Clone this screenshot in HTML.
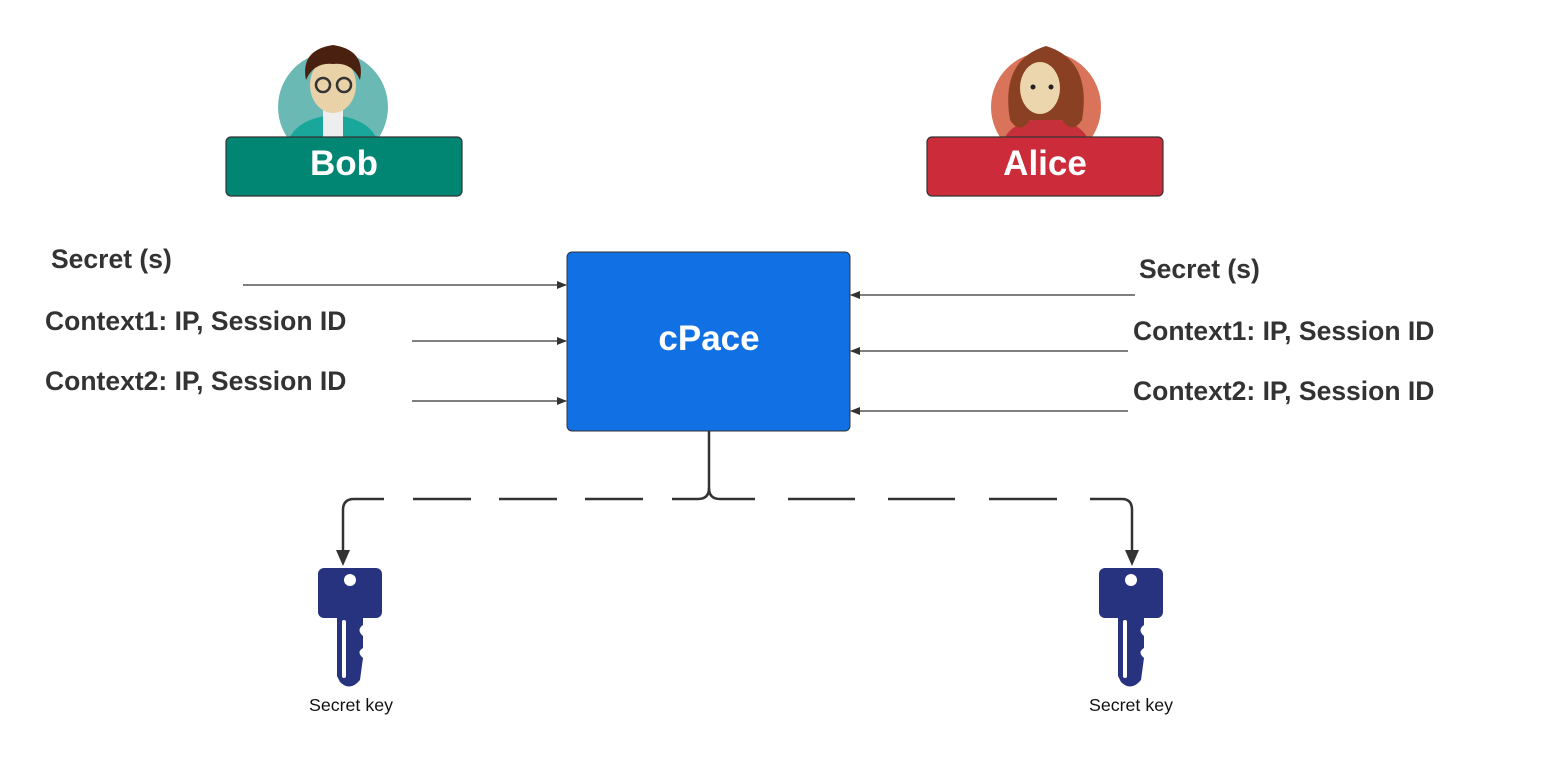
<!DOCTYPE html>
<html><head><style>
body{margin:0;background:#fff;width:1541px;height:759px;overflow:hidden;font-family:"Liberation Sans",sans-serif}
</style></head><body>
<svg width="1541" height="759" xmlns="http://www.w3.org/2000/svg" font-family="Liberation Sans, sans-serif">
<defs>
<marker id="a" markerWidth="10" markerHeight="8" refX="9" refY="4" orient="auto" markerUnits="userSpaceOnUse"><path d="M0,0 L10,4 L0,8z" fill="#333"/></marker>
<clipPath id="cb"><rect x="0" y="0" width="1541" height="137"/></clipPath>
</defs>
<g clip-path="url(#cb)">
<circle cx="333" cy="107" r="55" fill="#6bb9b4"/>
<path d="M290,137 Q300,118 333,115 Q366,118 376,137z" fill="#1aa79b"/>
<rect x="323" y="110" width="20" height="27" fill="#eee"/>
<ellipse cx="333" cy="85" rx="23" ry="28" fill="#e9d2a8"/>
<path d="M306,80 Q300,50 333,45 Q366,50 360,80 Q352,62 333,64 Q314,62 306,80z" fill="#4a2110"/>
<circle cx="323" cy="85" r="7" fill="none" stroke="#333" stroke-width="2.5"/>
<circle cx="344" cy="85" r="7" fill="none" stroke="#333" stroke-width="2.5"/>
</g>
<g clip-path="url(#cb)">
<circle cx="1046" cy="107" r="55" fill="#d9735a"/>
<path d="M1005,137 Q1015,120 1046,118 Q1077,120 1087,137z" fill="#c6303a"/>
<path d="M1010,120 Q1000,60 1046,46 Q1092,60 1082,120 Q1072,135 1062,120 L1030,120 Q1020,135 1010,120z" fill="#8a4022"/>
<ellipse cx="1040" cy="88" rx="20" ry="26" fill="#ecd6ad"/>
<circle cx="1033" cy="87" r="2.5" fill="#222"/><circle cx="1051" cy="87" r="2.5" fill="#222"/>
</g>
<rect x="226" y="137" width="236" height="59" rx="5" fill="#008673" stroke="#333" stroke-width="1.2"/>
<text x="344" y="175" font-size="35" font-weight="bold" fill="#fff" text-anchor="middle">Bob</text>
<rect x="927" y="137" width="236" height="59" rx="5" fill="#cc2c3a" stroke="#333" stroke-width="1.2"/>
<text x="1045" y="175" font-size="35" font-weight="bold" fill="#fff" text-anchor="middle">Alice</text>
<rect x="567" y="252" width="283" height="179" rx="5" fill="#1170e3" stroke="#333" stroke-width="1"/>
<text x="709" y="350" font-size="35" font-weight="bold" fill="#fff" text-anchor="middle">cPace</text>
<g font-size="26.5" font-weight="bold" fill="#333">
<text x="51" y="268">Secret (s)</text>
<text x="45" y="330">Context1: IP, Session ID</text>
<text x="45" y="390">Context2: IP, Session ID</text>
<text x="1139" y="278">Secret (s)</text>
<text x="1133" y="340">Context1: IP, Session ID</text>
<text x="1133" y="400">Context2: IP, Session ID</text>
</g>
<g stroke="#333" stroke-width="1.2" fill="none">
<line x1="243" y1="285" x2="566" y2="285" marker-end="url(#a)"/>
<line x1="412" y1="341" x2="566" y2="341" marker-end="url(#a)"/>
<line x1="412" y1="401" x2="566" y2="401" marker-end="url(#a)"/>
<line x1="1135" y1="295" x2="851" y2="295" marker-end="url(#a)"/>
<line x1="1128" y1="351" x2="851" y2="351" marker-end="url(#a)"/>
<line x1="1128" y1="411" x2="851" y2="411" marker-end="url(#a)"/>
</g>
<g stroke="#333" stroke-width="2.5" fill="none">
<path d="M709,431 L709,488 Q709,499 698,499 L354,499 Q343,499 343,510 L343,562"/>
<path d="M709,488 Q709,499 720,499 L1122,499 Q1132,499 1132,510 L1132,562"/>
</g>
<g fill="#fff">
<rect x="384" y="495" width="29" height="8"/>
<rect x="471" y="495" width="28" height="8"/>
<rect x="557" y="495" width="28" height="8"/>
<rect x="643" y="495" width="29" height="8"/>
<rect x="755" y="495" width="33" height="8"/>
<rect x="855" y="495" width="33" height="8"/>
<rect x="955" y="495" width="34" height="8"/>
<rect x="1057" y="495" width="33" height="8"/>
</g>
<path d="M336,550 L350,550 L343,566z" fill="#333"/>
<path d="M1125,550 L1139,550 L1132,566z" fill="#333"/>
<g fill="#283380">
<rect x="318" y="568" width="64" height="50" rx="6"/>
<path d="M337,612 L363,612 L363,625 Q356,630 363,636 L363,648 Q356,652 363,658 L360,680 Q350,692 340,682 L337,676z"/>
<rect x="1099" y="568" width="64" height="50" rx="6"/>
<path d="M1118,612 L1144,612 L1144,625 Q1137,630 1144,636 L1144,648 Q1137,652 1144,658 L1141,680 Q1131,692 1121,682 L1118,676z"/>
</g>
<circle cx="350" cy="580" r="6" fill="#fff"/><circle cx="1131" cy="580" r="6" fill="#fff"/>
<rect x="342" y="620" width="4" height="58" rx="2" fill="#fff"/><rect x="1123" y="620" width="4" height="58" rx="2" fill="#fff"/>
<text x="351" y="711" font-size="17.8" fill="#111" text-anchor="middle">Secret key</text>
<text x="1131" y="711" font-size="17.8" fill="#111" text-anchor="middle">Secret key</text>
</svg>
</body></html>
